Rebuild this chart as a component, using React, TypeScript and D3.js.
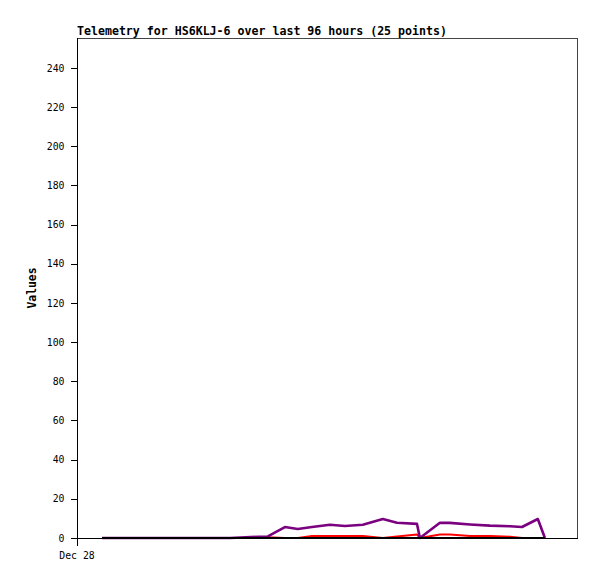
import React, { useEffect, useRef } from "react";
import * as d3 from "d3";

// sample times on Dec 28 (HH:MM)
const times = [
  "01:00", "02:19", "03:31", "04:43", "06:07", "07:14", "07:38", "08:19", "08:50",
  "09:24", "10:07", "10:43", "11:26", "12:14", "12:48", "13:36", "13:43", "14:31",
  "14:55", "15:43", "16:31", "17:19", "17:48", "18:26", "18:43",
];
const redValues = [
  0, 0, 0, 0, 0, 0, 0.4, 0, 0, 1, 1, 1, 1, 0, 0.8, 1.8, 0, 1.8, 1.8, 1, 1, 0.7, 0, 0, 0,
];
const purpleValues = [
  0, 0, 0, 0, 0, 0.6, 0.8, 5.6, 4.6, 5.6, 6.8, 6.1, 6.8, 9.7, 7.8, 7.2, 0, 7.8, 7.7, 6.9,
  6.3, 6.0, 5.6, 9.7, 0,
];
const blackValues = [
  0, 0, 0, 0, 0, 0, 0, 0, 0, 0, 0, 0, 0, 0, 0, 0, 0, 0, 0, 0, 0, 0, 0, 0, 0,
];
const yTicks = [0, 20, 40, 60, 80, 100, 120, 140, 160, 180, 200, 220, 240];
const title = "Telemetry for HS6KLJ-6 over last 96 hours (25 points)";
const yLabel = "Values";
const xTickLabel = "Dec 28";

const parseTime = (t: string) => {
  const [h, m] = t.split(":").map(Number);
  return new Date(2023, 11, 28, h, m);
};

const App = () => {
  const ref = useRef<SVGSVGElement | null>(null);

  useEffect(() => {
    document.body.style.margin = "0";
    if (!ref.current) return;
    const svg = d3.select(ref.current);
    svg.selectAll("*").remove();

    const width = 597;
    const height = 579;
    const left = 77;
    const right = 577;
    const top = 38;
    const bottom = 538;
    const mono = "'DejaVu Sans Mono', monospace";

    svg.attr("width", width).attr("height", height);
    svg.append("rect").attr("width", width).attr("height", height).attr("fill", "#fff");

    const x = d3
      .scaleTime()
      .domain([new Date(2023, 11, 28, 0, 0), new Date(2023, 11, 28, 20, 0)])
      .range([left, right]);
    const y = d3.scaleLinear().domain([0, 255.3]).range([bottom, top]);

    const g = svg.append("g");

    // frame
    g.append("path")
      .attr("d", `M${left + 0.5},${top + 0.5}H${right + 0.5}V${bottom + 0.5}`)
      .attr("fill", "none")
      .attr("stroke", "#444")
      .attr("shape-rendering", "crispEdges");

    // y axis
    const yAxis = g
      .append("g")
      .attr("transform", `translate(${left + 0.5},0)`)
      .call(d3.axisLeft(y).tickValues(yTicks).tickSize(7).tickPadding(6))
      .call((a) => a.select(".domain").remove());
    yAxis.selectAll(".tick line").attr("stroke", "#000").attr("shape-rendering", "crispEdges");
    yAxis
      .selectAll(".tick text")
      .attr("font-family", mono)
      .attr("font-size", 9.8)
      .attr("fill", "#000");
    g.append("line")
      .attr("x1", left + 0.5)
      .attr("x2", left + 0.5)
      .attr("y1", top)
      .attr("y2", bottom + 8)
      .attr("stroke", "#000")
      .attr("shape-rendering", "crispEdges");
    g.append("line")
      .attr("x1", left)
      .attr("x2", right + 1)
      .attr("y1", bottom + 0.5)
      .attr("y2", bottom + 0.5)
      .attr("stroke", "#000")
      .attr("shape-rendering", "crispEdges");

    // x tick label
    g.append("text")
      .attr("x", x(new Date(2023, 11, 28, 0, 0)))
      .attr("y", 559)
      .attr("text-anchor", "middle")
      .attr("font-family", mono)
      .attr("font-size", 9.8)
      .text(xTickLabel);

    // title
    g.append("text")
      .attr("x", left)
      .attr("y", 35)
      .attr("font-family", mono)
      .attr("font-weight", "bold")
      .attr("font-size", 11.6)
      .text(title);

    // y label
    g.append("text")
      .attr("transform", `translate(36,${(top + bottom) / 2}) rotate(-90)`)
      .attr("text-anchor", "middle")
      .attr("font-family", mono)
      .attr("font-weight", "bold")
      .attr("font-size", 11.4)
      .text(yLabel);

    const dates = times.map(parseTime);
    const line = d3
      .line<number>()
      .x((_, i) => x(dates[i]))
      .y((d) => y(d));

    const series = [
      { values: redValues, color: "#ff0000", w: 2 },
      { values: purpleValues, color: "#7a007f", w: 2.6 },
      { values: blackValues, color: "#000000", w: 2 },
    ];
    series.forEach((s) => {
      g.append("path")
        .datum(s.values)
        .attr("d", line)
        .attr("fill", "none")
        .attr("stroke", s.color)
        .attr("stroke-width", s.w)
        .attr("stroke-linejoin", "round");
    });
  }, []);

  return <svg ref={ref} style={{ display: "block" }}></svg>;
};

export default App;
